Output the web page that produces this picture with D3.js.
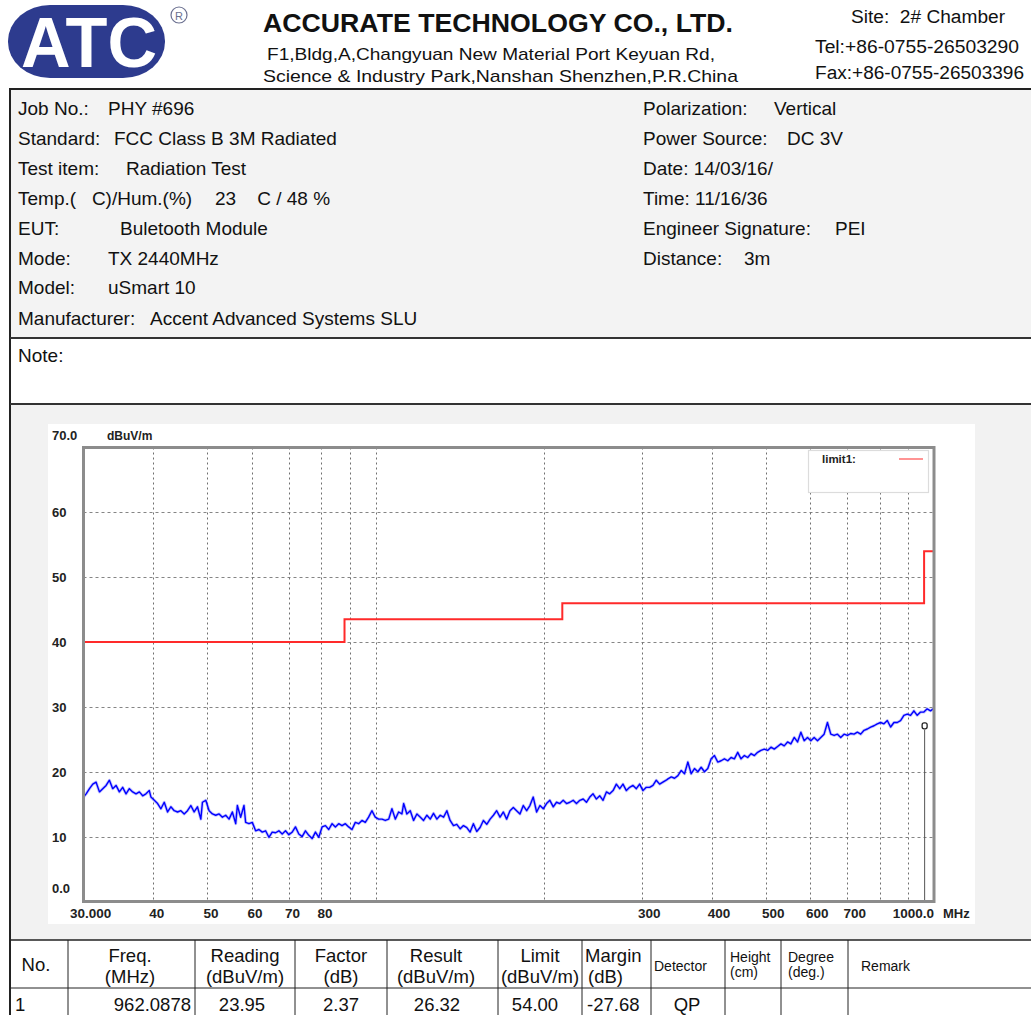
<!DOCTYPE html>
<html><head><meta charset="utf-8">
<script src="https://cdn.jsdelivr.net/npm/d3@7"></script>
<style>body{margin:0;background:#fff}svg{display:block;font-family:"Liberation Sans",Arial,sans-serif}text{white-space:pre}</style>
</head><body><svg id="c" width="1031" height="1015"></svg>
<script>
// ---------------- data ----------------
const traceFreq = [
30.00,30.33,30.75,31.17,31.60,32.04,32.48,32.93,33.38,33.84,34.31,34.78,35.26,35.75,36.24,36.74,37.25,37.77,38.29,38.81,39.35,39.62,40.17,40.72,41.28,41.85,42.43,43.01,43.61,44.21,44.82,45.44,46.06,46.70,47.34,47.99,48.66,48.99,49.67,50.35,51.05,51.75,52.47,53.19,53.92,54.67,55.42,56.19,56.57,57.35,58.14,58.54,59.35,60.17,61.00,61.84,62.69,63.56,64.43,65.32,66.22,67.14,68.06,69.00,69.95,70.92,71.89,72.89,73.89,74.91,75.95,77.00,78.06,79.14,80.23,81.34,82.46,83.60,84.75,85.92,87.10,88.31,89.52,90.76,92.01,93.28,94.57,95.87,97.19,98.53,99.89,101.27,
102.7,104.1,105.6,107.0,108.5,110.0,111.5,
112.3,113.8,115.4,117.0,118.6,120.3,121.9,123.6,125.3,127.0,128.8,130.6,132.4,134.2,136.0,137.9,139.8,141.8,143.7,145.7,147.7,149.7,151.8,153.9,156.0,158.2,160.4,162.6,164.8,167.1,169.4,171.7,174.1,176.5,178.9,181.4,183.9,186.5,189.0,191.6,194.3,197.0,199.7,202.4,205.2,208.1,210.9,213.8,216.8,219.8,222.8,225.9,229.0,232.2,235.4,238.6,241.9,245.2,248.6,252.1,255.5,259.1,262.6,266.3,269.9,273.7,277.4,281.3,285.1,289.1,293.1,297.1,301.2,305.4,309.6,313.9,318.2,322.6,327.0,331.5,
333.9,338.5,343.1,347.9,352.7,357.5,362.5,367.5,372.5,377.7,382.9,388.2,393.5,399.0,404.5,410.0,415.7,421.4,427.3,433.1,439.1,445.2,451.3,457.6,463.9,470.3,476.8,483.3,490.0,496.8,503.6,510.6,517.6,524.8,532.0,539.3,546.8,554.3,562.0,569.7,577.6,585.6,593.6,601.8,610.1,618.6,627.1,635.7,644.5,653.4,662.4,671.6,680.8,690.2,699.8,709.4,719.2,729.1,739.2,749.4,759.7,770.2,780.8,791.6,802.5,813.6,824.8,836.2,847.8,859.5,871.3,883.3,895.5,907.9,920.4,933.1,946.0,959.1,972.3,985.7,1000
];
const traceLevel = [
16.1,16.6,17.4,18.1,18.4,16.9,17.4,17.9,18.7,17.4,17.9,16.9,17.6,16.6,17.4,16.9,16.6,16.9,16.3,16.6,17.1,16.1,15.6,15.1,14.3,15.3,13.8,14.6,14.0,13.8,14.0,13.5,14.0,14.8,13.8,14.6,12.7,15.3,15.6,14.0,13.5,13.3,13.5,13.0,13.3,12.7,13.8,12.0,14.8,13.0,14.8,12.2,12.0,12.2,10.9,11.1,10.7,10.9,9.9,10.7,10.6,10.9,10.4,10.9,10.3,10.7,11.5,10.4,10.0,10.9,10.2,9.7,10.7,9.9,11.5,11.7,11.1,12.0,11.5,12.0,11.7,12.0,11.5,11.1,12.2,12.0,12.5,12.2,13.0,14.0,13.0,12.7,
12.7,12.5,12.7,14.3,12.7,13.8,13.5,
15.1,13.5,14.0,12.5,13.5,13.0,12.5,13.3,12.7,13.6,12.7,13.3,13.0,14.0,12.5,11.7,11.9,11.2,11.7,11.4,10.7,12.0,10.8,11.4,12.5,11.9,12.7,13.3,14.0,13.0,13.8,12.7,14.0,14.5,14.0,13.5,14.8,14.0,14.8,16.1,13.8,14.8,14.3,15.1,15.6,14.6,15.3,15.1,15.6,15.1,15.3,15.6,15.1,15.6,15.8,15.3,16.1,16.6,15.8,16.3,15.6,16.9,16.6,17.1,18.1,17.4,18.1,17.1,17.6,17.9,17.4,18.1,17.1,17.6,17.6,17.9,18.7,18.1,18.4,18.7,
18.9,19.2,19.0,19.4,20.2,19.7,21.5,19.7,20.5,20.0,20.7,20.0,20.5,22.0,22.5,21.5,21.7,22.0,21.7,22.2,22.0,23.0,22.0,22.5,22.2,22.8,22.5,23.0,23.3,23.5,23.3,23.8,23.5,23.9,24.3,24.0,24.6,24.3,25.3,24.6,26.1,24.8,25.3,24.8,25.3,24.8,25.3,25.8,27.6,25.8,25.6,25.8,25.3,25.8,25.6,25.9,25.8,26.1,25.8,26.4,26.6,26.9,27.1,27.4,27.6,27.4,27.9,26.9,27.6,27.6,27.9,28.7,28.9,28.7,29.4,28.7,29.2,29.2,29.7,29.4,29.8
];
const limitFreq  = [30, 88, 216, 960, 1000];
const limitLevel = [40, 43.5, 46, 54, 54];
const limitName = "limit1:";
const yTicks = [0, 10, 20, 30, 40, 50, 60, 70];
const yTickLabels = ["0.0", "10", "20", "30", "40", "50", "60", "70.0"];
const xGridValues = [40, 50, 60, 70, 80, 90, 100, 200, 300, 400, 500, 600, 700, 800, 900];
const xTickValues = [30, 40, 50, 60, 70, 80, 300, 400, 500, 600, 700, 1000];
const xTickLabels = ["30.000", "40", "50", "60", "70", "80", "300", "400", "500", "600", "700", "1000.0"];
const yUnit = "dBuV/m", xUnit = "MHz";
const markerFreq = 962.0878, markerLevel = 26.32;

const infoLeft = [
  ["Job No.:", "PHY #696"],
  ["Standard:", "FCC Class B 3M Radiated"],
  ["Test item:", "Radiation Test"],
  ["Temp.(   C)/Hum.(%)", "23    C / 48 %"],
  ["EUT:", "Buletooth Module"],
  ["Mode:", "TX 2440MHz"],
  ["Model:", "uSmart 10"],
  ["Manufacturer:", "Accent Advanced Systems SLU"]
];
const infoRight = [
  ["Polarization:", "Vertical"],
  ["Power Source:", "DC 3V"],
  ["Date: 14/03/16/", ""],
  ["Time: 11/16/36", ""],
  ["Engineer Signature:", "PEI"],
  ["Distance:", "3m"]
];
const tableHeadTop = ["No.", "Freq.", "Reading", "Factor", "Result", "Limit", "Margin", "Detector", "Height", "Degree", "Remark"];
const tableHeadBottom = ["", "(MHz)", "(dBuV/m)", "(dB)", "(dBuV/m)", "(dBuV/m)", "(dB)", "", "(cm)", "(deg.)", ""];
const tableRow = ["1", "962.0878", "23.95", "2.37", "26.32", "54.00", "-27.68", "QP", "", "", ""];

// ---------------- drawing ----------------
const svg = d3.select("#c");

function txt(x, y, s, size, opt = {}) {
  const t = svg.append("text").attr("x", x).attr("y", y).text(s)
    .attr("font-size", size).attr("fill", opt.fill || "#111")
    .attr("font-weight", opt.bold ? "bold" : null)
    .attr("text-anchor", opt.anchor || "start");
  if (opt.w) t.attr("textLength", opt.w).attr("lengthAdjust", "spacingAndGlyphs");
  return t;
}

// backgrounds
svg.append("rect").attr("x", 10).attr("y", 89).attr("width", 1021).attr("height", 249).attr("fill", "#f3f3f3");
svg.append("rect").attr("x", 10).attr("y", 338).attr("width", 1021).attr("height", 66).attr("fill", "#fff");
svg.append("rect").attr("x", 10).attr("y", 404).attr("width", 1021).attr("height", 536).attr("fill", "#f2f2f2");
svg.append("rect").attr("x", 48).attr("y", 424).attr("width", 927).attr("height", 500).attr("fill", "#fff");

// logo
svg.append("rect").attr("x", 8).attr("y", 5).attr("width", 157).attr("height", 73).attr("rx", 42).attr("ry", 36).attr("fill", "#2d3b8e");
txt(89, 67, "ATC", 70, {bold: true, fill: "#fff", anchor: "middle", w: 136});
svg.append("circle").attr("cx", 179).attr("cy", 15).attr("r", 8).attr("fill", "none").attr("stroke", "#6b7090").attr("stroke-width", 1.2);
txt(179, 19.5, "R", 11, {fill: "#6b7090", anchor: "middle"});

// header text
txt(263, 31.5, "ACCURATE TECHNOLOGY CO., LTD.", 26, {bold: true, w: 470});
txt(267, 59.5, "F1,Bldg,A,Changyuan New Material Port Keyuan Rd,", 17, {w: 448});
txt(263, 81.5, "Science & Industry Park,Nanshan Shenzhen,P.R.China", 17, {w: 475});
txt(851, 23, "Site:  2# Chamber", 18, {w: 154});
txt(815, 53, "Tel:+86-0755-26503290", 18, {w: 204});
txt(815, 79, "Fax:+86-0755-26503396", 18, {w: 209});

// info block
const rowY = [115, 145, 174.5, 204.5, 235, 265, 294, 324.5];
const leftValX = [108, 114, 126, 215, 120, 108, 108, 150];
infoLeft.forEach((r, i) => {
  txt(18, rowY[i], r[0], 19);
  txt(leftValX[i], rowY[i], r[1], 19);
});
const rightValX = [774, 787, 0, 0, 835, 744];
infoRight.forEach((r, i) => {
  txt(643, rowY[i], r[0], 19);
  if (r[1]) txt(rightValX[i], rowY[i], r[1], 19);
});
txt(18, 362, "Note:", 19);

// frame lines
const line = (x1, y1, x2, y2, w, c) => svg.append("line").attr("x1", x1).attr("y1", y1).attr("x2", x2).attr("y2", y2).attr("stroke", c || "#222").attr("stroke-width", w);
line(9, 89, 1031, 89, 2, "#222");
line(10, 88, 10, 1015, 2, "#222");
line(10, 338, 1031, 338, 2, "#333");
line(10, 404, 1031, 404, 2, "#333");
line(10, 940, 1031, 940, 1.5, "#222");
line(10, 988, 1031, 988, 1, "#222");
[68, 195, 295, 387, 498, 582, 651, 725, 781, 848].forEach(x => line(x, 940, x, 1015, 1, "#222"));

// table text
const headPos = [
  {x: 36, a: "middle"}, {x: 130, a: "middle"}, {x: 245, a: "middle"}, {x: 341, a: "middle"},
  {x: 436, a: "middle"}, {x: 540, a: "middle"}, {x: 585, a: "start"}, {x: 654, a: "start", s: 14},
  {x: 730, a: "start", s: 14}, {x: 788, a: "start", s: 14}, {x: 861, a: "start", s: 14}
];
tableHeadTop.forEach((h, i) => {
  const p = headPos[i], sz = p.s || 18.5;
  const two = tableHeadBottom[i] !== "";
  const y1 = two ? (p.s ? 962 : 961.5) : 971;
  txt(p.x, y1, h, sz, {anchor: p.a});
  if (two) txt(p.x + (i === 6 ? 3 : 0), p.s ? 976.5 : 983, tableHeadBottom[i], sz, {anchor: p.a});
});
const rowPos = [{x: 15, a: "start"}, {x: 191, a: "end"}, {x: 242, a: "middle"}, {x: 341, a: "middle"},
  {x: 437, a: "middle"}, {x: 535, a: "middle"}, {x: 587, a: "start"}, {x: 687, a: "middle"},
  {x: 753, a: "middle"}, {x: 814, a: "middle"}, {x: 900, a: "middle"}];
tableRow.forEach((v, i) => { if (v) txt(rowPos[i].x, 1011, v, 18.5, {anchor: rowPos[i].a}); });

// ---------------- chart ----------------
const x = d3.scaleLog().domain([30, 1000]).range([83.5, 934]);
const y = d3.scaleLinear().domain([0, 70]).range([901.5, 447.5]);
const g = svg.append("g");

// grid
g.selectAll(".hg").data(yTicks.filter(v => v > 0 && v < 70)).join("line")
  .attr("x1", x(30)).attr("x2", x(1000)).attr("y1", d => Math.round(y(d)) + 0.5).attr("y2", d => Math.round(y(d)) + 0.5)
  .attr("stroke", "#858585").attr("stroke-width", 1).attr("stroke-dasharray", "3,3");
g.selectAll(".vg").data(xGridValues).join("line")
  .attr("y1", y(70)).attr("y2", y(0)).attr("x1", d => Math.round(x(d)) + 0.5).attr("x2", d => Math.round(x(d)) + 0.5)
  .attr("stroke", "#6f6f6f").attr("stroke-width", 1).attr("stroke-dasharray", "2,3");

// legend
g.append("rect").attr("x", 808.5).attr("y", 450.5).attr("width", 120).attr("height", 42).attr("fill", "#fff").attr("stroke", "#dcdcdc").attr("stroke-width", 1.2);
g.append("text").attr("x", 822).attr("y", 462.5).text(limitName).attr("font-size", 11.5).attr("font-weight", "bold").attr("fill", "#222");
g.append("line").attr("x1", 899).attr("x2", 923).attr("y1", 459).attr("y2", 459).attr("stroke", "#ff7070").attr("stroke-width", 1.5);

// limit line (step)
const limitPts = d3.zip(limitFreq, limitLevel);
g.append("path").datum(limitPts)
  .attr("d", d3.line().x(d => x(d[0])).y(d => y(d[1])).curve(d3.curveStepAfter))
  .attr("fill", "none").attr("stroke", "#ff2a2a").attr("stroke-width", 2);

// trace (soft halo + core line)
const tracePts = d3.zip(traceFreq, traceLevel);
const traceLine = d3.line().x(d => x(d[0])).y(d => y(d[1]));
g.append("path").datum(tracePts).attr("d", traceLine)
  .attr("fill", "none").attr("stroke", "#7a7aff").attr("stroke-opacity", 0.45).attr("stroke-width", 3).attr("stroke-linejoin", "round");
g.append("path").datum(tracePts).attr("d", traceLine)
  .attr("fill", "none").attr("stroke", "#0000ff").attr("stroke-width", 1.4).attr("stroke-linejoin", "round");

// marker
const mx = x(markerFreq), my = y(markerLevel);
g.append("line").attr("x1", mx).attr("x2", mx).attr("y1", my - 1).attr("y2", y(0)).attr("stroke", "#555").attr("stroke-width", 1);
g.append("rect").attr("x", mx - 2.5).attr("y", my - 8).attr("width", 5).attr("height", 6).attr("rx", 2)
  .attr("fill", "#fff").attr("stroke", "#222").attr("stroke-width", 1.3);

// plot border
g.append("rect").attr("x", x(30)).attr("y", y(70)).attr("width", x(1000) - x(30)).attr("height", y(0) - y(70))
  .attr("fill", "none").attr("stroke", "#8c8c8c").attr("stroke-width", 3);

// y labels
yTicks.forEach((v, i) => {
  let yy = y(v) + 5;
  if (v === 70) yy = 440;
  if (v === 0) yy = 893;
  g.append("text").attr("x", 52).attr("y", yy).text(yTickLabels[i]).attr("font-size", 13).attr("font-weight", "bold").attr("fill", "#222");
});
g.append("text").attr("x", 107).attr("y", 440).text(yUnit).attr("font-size", 12).attr("font-weight", "bold").attr("fill", "#222");

// x labels
xTickValues.forEach((v, i) => {
  const t = g.append("text").attr("y", 918).text(xTickLabels[i]).attr("font-size", 13.5).attr("font-weight", "bold").attr("fill", "#222");
  if (i === 0) t.attr("x", x(v) - 13.5);
  else if (i === xTickValues.length - 1) t.attr("x", x(v)).attr("text-anchor", "end");
  else t.attr("x", x(v) - 4);
});
g.append("text").attr("x", 943).attr("y", 918).text(xUnit).attr("font-size", 13).attr("font-weight", "bold").attr("fill", "#222");
</script></body></html>
